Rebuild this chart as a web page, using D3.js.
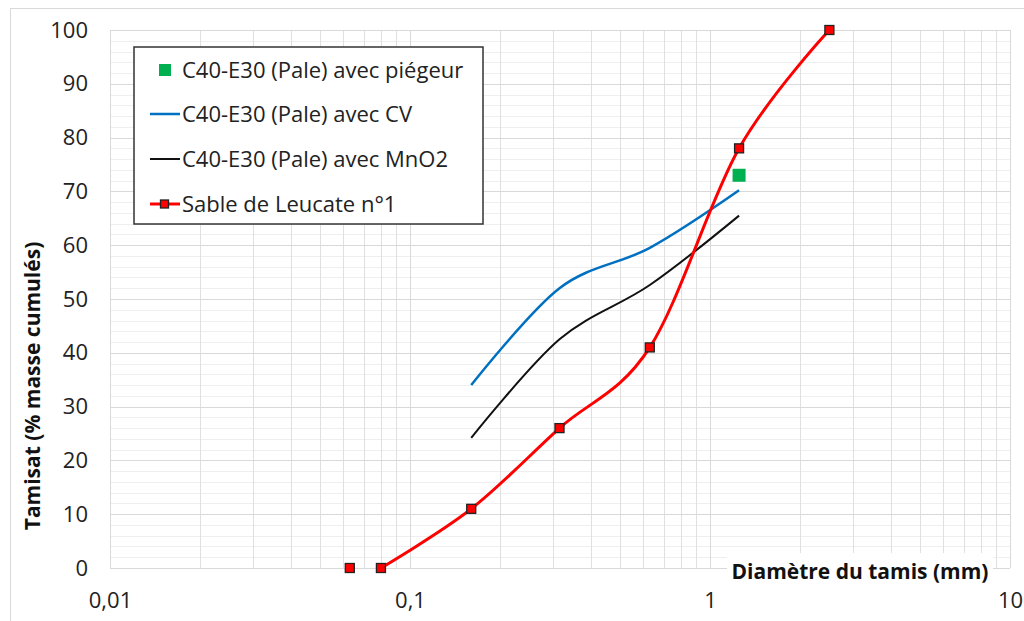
<!DOCTYPE html>
<html><head><meta charset="utf-8">
<script src="https://cdn.jsdelivr.net/npm/d3@7"></script>
<style>
html,body{margin:0;padding:0;background:#fff;}
svg{display:block;font-family:"Open Sans","Liberation Sans",Arial,sans-serif;}
</style></head>
<body>
<svg id="c" width="1024" height="621"></svg>
<script>
// ---- data ----
const sieveSizes = [0.063, 0.08, 0.16, 0.315, 0.63, 1.25, 2.5];
const sableLeucate = [0, 0, 11, 26, 41, 78, 100];
const cvSizes = [0.16, 0.315, 0.63, 1.25];
const cvValues = [34, 52, 59.5, 70.2];
const mno2Sizes = [0.16, 0.315, 0.63, 1.25];
const mno2Values = [24.2, 42.5, 52.6, 65.5];
const piegeurSizes = [1.25];
const piegeurValues = [73];
const xTicks = [0.01, 0.1, 1, 10];
const xTickLabels = ["0,01", "0,1", "1", "10"];
const yTicks = [0, 10, 20, 30, 40, 50, 60, 70, 80, 90, 100];
const seriesNames = ["C40-E30 (Pale) avec piégeur", "C40-E30 (Pale) avec CV", "C40-E30 (Pale) avec MnO2", "Sable de Leucate n°1"];

const FONT = "Open Sans, Liberation Sans, Arial, sans-serif";
const svg = d3.select("#c");
const x = d3.scaleLog().domain([0.01, 10]).range([110, 1010]);
const y = d3.scaleLinear().domain([0, 100]).range([568, 30]);

// outer chart border
svg.append("rect").attr("x", 10.5).attr("y", 8.5).attr("width", 1030).attr("height", 640)
  .attr("fill", "#fff").attr("stroke", "#d9d9d9");

// gridlines
const g = svg.append("g");
const minorY = d3.range(0, 101, 2).filter(v => v % 10 !== 0);
g.selectAll(".hmin").data(minorY).join("line")
  .attr("x1", x(0.01)).attr("x2", x(10)).attr("y1", d => Math.round(y(d)) + 0.5).attr("y2", d => Math.round(y(d)) + 0.5)
  .attr("stroke", "#efefef").attr("stroke-width", 1);
const minorX = [];
[0.01, 0.1, 1].forEach(b => { for (let k = 2; k <= 9; k++) minorX.push(b * k); });
g.selectAll(".vmin").data(minorX).join("line")
  .attr("y1", y(0)).attr("y2", y(100)).attr("x1", d => Math.round(x(d)) + 0.5).attr("x2", d => Math.round(x(d)) + 0.5)
  .attr("stroke", "#e0e0e0").attr("stroke-width", 1);
g.selectAll(".hmaj").data(yTicks).join("line")
  .attr("x1", x(0.01)).attr("x2", x(10)).attr("y1", d => Math.round(y(d)) + 0.5).attr("y2", d => Math.round(y(d)) + 0.5)
  .attr("stroke", "#d9d9d9").attr("stroke-width", 1);
g.selectAll(".vmaj").data(xTicks).join("line")
  .attr("y1", y(0)).attr("y2", y(100)).attr("x1", d => Math.round(x(d)) + 0.5).attr("x2", d => Math.round(x(d)) + 0.5)
  .attr("stroke", "#d9d9d9").attr("stroke-width", 1);

// axes (labels only)
const yAxis = d3.axisLeft(y).tickValues(yTicks).tickSize(0).tickPadding(22);
const ya = svg.append("g").attr("transform", `translate(${x(0.01)},0)`).call(yAxis);
ya.select(".domain").remove();
ya.selectAll("text").attr("font-size", 22).attr("fill", "#222").attr("font-family", FONT);

const xAxis = d3.axisBottom(x).tickValues(xTicks).tickFormat((d, i) => xTickLabels[i]).tickSize(0).tickPadding(24);
const xa = svg.append("g").attr("transform", `translate(0,${y(0)})`).call(xAxis);
xa.select(".domain").remove();
xa.selectAll("text").attr("font-size", 22).attr("fill", "#222").attr("font-family", FONT);

// x axis title with white background
svg.append("rect").attr("x", 727).attr("y", 553).attr("width", 266).attr("height", 34).attr("fill", "#fff");
svg.append("text").attr("x", 860).attr("y", 579).attr("text-anchor", "middle")
  .attr("font-size", 21).attr("font-weight", "bold").attr("fill", "#111")
  .text("Diamètre du tamis (mm)");

// y axis title
svg.append("text").attr("transform", "translate(40,386) rotate(-90)").attr("text-anchor", "middle")
  .attr("font-size", 21).attr("font-weight", "bold").attr("fill", "#111")
  .text("Tamisat (% masse cumulés)");

// lines
const curve = d3.curveCatmullRom.alpha(0);
const line = d3.line().x(d => x(d[0])).y(d => y(d[1])).curve(curve);
const cvData = cvSizes.map((s, i) => [s, cvValues[i]]);
const mnData = mno2Sizes.map((s, i) => [s, mno2Values[i]]);
const sableData = sieveSizes.map((s, i) => [s, sableLeucate[i]]);

svg.append("path").attr("d", line(cvData)).attr("fill", "none").attr("stroke", "#0070C0").attr("stroke-width", 2.5);
svg.append("path").attr("d", line(mnData)).attr("fill", "none").attr("stroke", "#111").attr("stroke-width", 2);
svg.append("path").attr("d", line(sableData.slice(1))).attr("fill", "none").attr("stroke", "#FF0000").attr("stroke-width", 3);

svg.selectAll(".rm").data(sableData).join("rect")
  .attr("x", d => x(d[0]) - 4.5).attr("y", d => y(d[1]) - 4.5).attr("width", 9).attr("height", 9)
  .attr("fill", "#FF0000").attr("stroke", "#222").attr("stroke-width", 1.3);

svg.selectAll(".gm").data(piegeurSizes.map((s, i) => [s, piegeurValues[i]])).join("rect")
  .attr("x", d => x(d[0]) - 6.5).attr("y", d => y(d[1]) - 6.5).attr("width", 13).attr("height", 13)
  .attr("fill", "#00B050");

// legend
const lg = svg.append("g");
lg.append("rect").attr("x", 134).attr("y", 47).attr("width", 349).attr("height", 177)
  .attr("fill", "#fff").attr("stroke", "#333").attr("stroke-width", 1.5);
const ly = [70, 114, 159, 204];
lg.append("rect").attr("x", 159).attr("y", ly[0] - 6).attr("width", 12).attr("height", 12).attr("fill", "#00B050");
lg.append("line").attr("x1", 150).attr("x2", 180).attr("y1", ly[1]).attr("y2", ly[1]).attr("stroke", "#0070C0").attr("stroke-width", 2.5);
lg.append("line").attr("x1", 150).attr("x2", 180).attr("y1", ly[2]).attr("y2", ly[2]).attr("stroke", "#111").attr("stroke-width", 2);
lg.append("line").attr("x1", 150).attr("x2", 180).attr("y1", ly[3]).attr("y2", ly[3]).attr("stroke", "#FF0000").attr("stroke-width", 3);
lg.append("rect").attr("x", 160.5).attr("y", ly[3] - 4).attr("width", 8).attr("height", 8).attr("fill", "#FF0000").attr("stroke", "#222").attr("stroke-width", 1.3);
lg.selectAll(".lt").data(seriesNames).join("text")
  .attr("x", 182).attr("y", (d, i) => ly[i]).attr("dy", "0.35em")
  .attr("font-size", 22).attr("fill", "#222").attr("font-family", FONT).text(d => d);
</script>
</body></html>
